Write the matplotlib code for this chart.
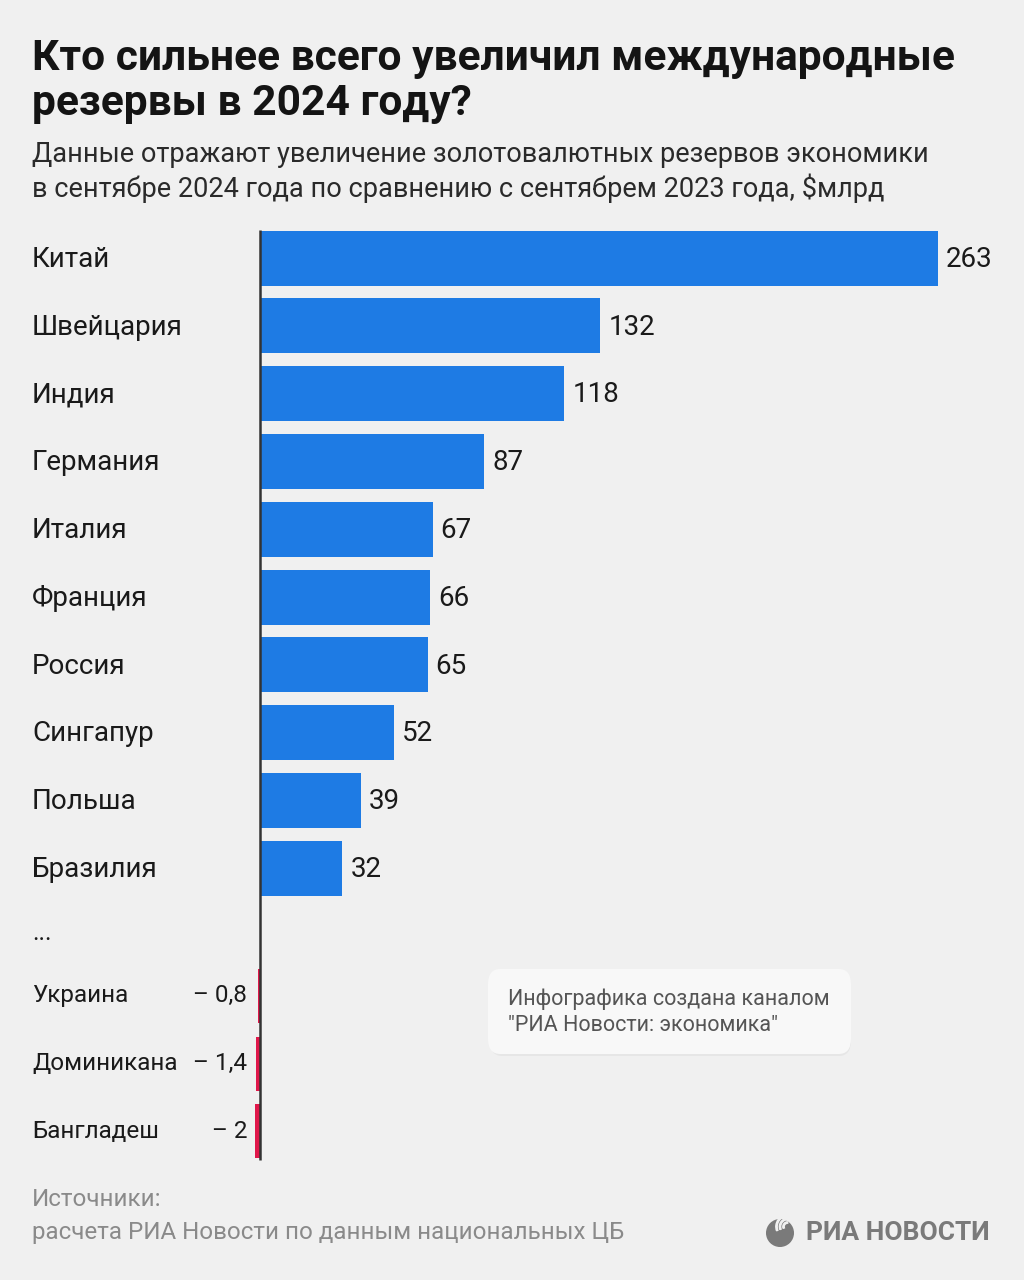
import numpy as np
import matplotlib.pyplot as plt
from matplotlib.patches import FancyBboxPatch, Circle, Wedge
from matplotlib.transforms import blended_transform_factory

plt.rcParams['font.family'] = ['Roboto', 'DejaVu Sans']

countries = ['Китай', 'Швейцария', 'Индия', 'Германия', 'Италия', 'Франция',
             'Россия', 'Сингапур', 'Польша', 'Бразилия']
values = [263, 132, 118, 87, 67, 66, 65, 52, 39, 32]

neg_countries = ['Украина', 'Доминикана', 'Бангладеш']
neg_values = [-0.8, -1.4, -2]
neg_labels = ['– 0,8', '– 1,4', '– 2']

BLUE = '#1e7be4'
RED = '#e0174a'
BG = '#f0f0f0'

W, H = 1024, 1280
fig = plt.figure(figsize=(W / 100, H / 100), dpi=100, facecolor=BG)

# axes covers the whole figure; x: 0 at px 260, 263 at px 938
px_per_unit = (938 - 260) / 263
ax = fig.add_axes([0, 0, 1, 1])
ax.set_facecolor(BG)
ax.set_xlim(-260 / px_per_unit, (W - 260) / px_per_unit)
# y in row units: row 0 centre at px 258, pitch 67.8 px
pitch = 67.8
ax.set_ylim((H - 258) / pitch, -258 / pitch)
ax.axis('off')

pos = np.arange(len(values))
ax.barh(pos, values, height=55 / pitch, color=BLUE, zorder=2)
neg_pos = len(values) + 1 + np.arange(len(neg_values)) - 8 / pitch
ax.barh(neg_pos, neg_values, height=54 / pitch, color=RED, zorder=2)

# axis line
ax.plot([0, 0], [-28 / pitch, neg_pos[-1] + 29 / pitch], color='#333333', lw=1.8, zorder=3,
        solid_capstyle='butt')

tr = blended_transform_factory(fig.transFigure, ax.transData)
for p, c, v in zip(pos, countries, values):
    ax.text(32 / W, p + 0.02, c, transform=tr, ha='left', va='center', fontsize=20,
            color='#1a1a1a')
    ax.text(v + 8 / px_per_unit, p + 0.02, str(v), ha='left', va='center', fontsize=20,
            color='#1a1a1a')

ax.text(32 / W, len(values) - 0.05, '...', transform=tr, ha='left', va='center', fontsize=18,
        color='#1a1a1a')

for p, c, lab in zip(neg_pos, neg_countries, neg_labels):
    ax.text(32 / W, p, c, transform=tr, ha='left', va='center', fontsize=17.5, color='#1a1a1a')
    ax.text(247 / W, p, lab, transform=tr, ha='right', va='center', fontsize=17.5,
            color='#1a1a1a')

# title and subtitle
fig.text(32 / W, 1 - 81 / H, 'Кто сильнее всего увеличил международные\nрезервы в 2024 году?',
         ha='left', va='center', fontsize=30.6, fontweight='bold', color='#141414',
         linespacing=1.1)
fig.text(32 / W, 1 - 172 / H,
         'Данные отражают увеличение золотовалютных резервов экономики\n'
         'в сентябре 2024 года по сравнению с сентябрем 2023 года, $млрд',
         ha='left', va='center', fontsize=19.5, color='#2a2a2a', linespacing=1.25)

# info box
shadow = FancyBboxPatch((490 / W, 1 - 1056 / H), 361 / W, 85 / H,
                        boxstyle='round,pad=0,rounding_size=0.012',
                        transform=fig.transFigure, facecolor='#e6e6e6', edgecolor='none',
                        zorder=4)
box = FancyBboxPatch((488 / W, 1 - 1054 / H), 363 / W, 85 / H,
                     boxstyle='round,pad=0,rounding_size=0.012',
                     transform=fig.transFigure, facecolor='#f8f8f8', edgecolor='none',
                     zorder=5)
fig.add_artist(shadow)
fig.add_artist(box)
fig.text(508 / W, 1 - 1012 / H, 'Инфографика создана каналом\n"РИА Новости: экономика"',
         ha='left', va='center', fontsize=15.5, color='#555555', linespacing=1.3, zorder=6)

# footer
fig.text(32 / W, 1 - 1199 / H, 'Источники:', ha='left', va='center', fontsize=17.4,
         color='#8a8a8a')
fig.text(32 / W, 1 - 1233 / H, 'расчета РИА Новости по данным национальных ЦБ', ha='left',
         va='center', fontsize=17.4, color='#8a8a8a')

# logo
fig.text(990 / W, 1 - 1233 / H, 'РИА НОВОСТИ', ha='right', va='center', fontsize=19,
         fontweight='bold', color='#7a7a7a')
lax = fig.add_axes([766 / W, 1 - 1247 / H, 28 / W, 28 / H])
lax.set_xlim(-1, 1)
lax.set_ylim(-1, 1)
lax.set_aspect('equal')
lax.axis('off')
lax.add_patch(Circle((0, 0), 0.95, color='#7a7a7a'))
for r in [0.35, 0.6, 0.85]:
    lax.add_patch(Wedge((0.55, 0.45), r, 90, 200, width=0.1, color=BG))

fig.savefig('out.png', dpi=100, facecolor=BG)
